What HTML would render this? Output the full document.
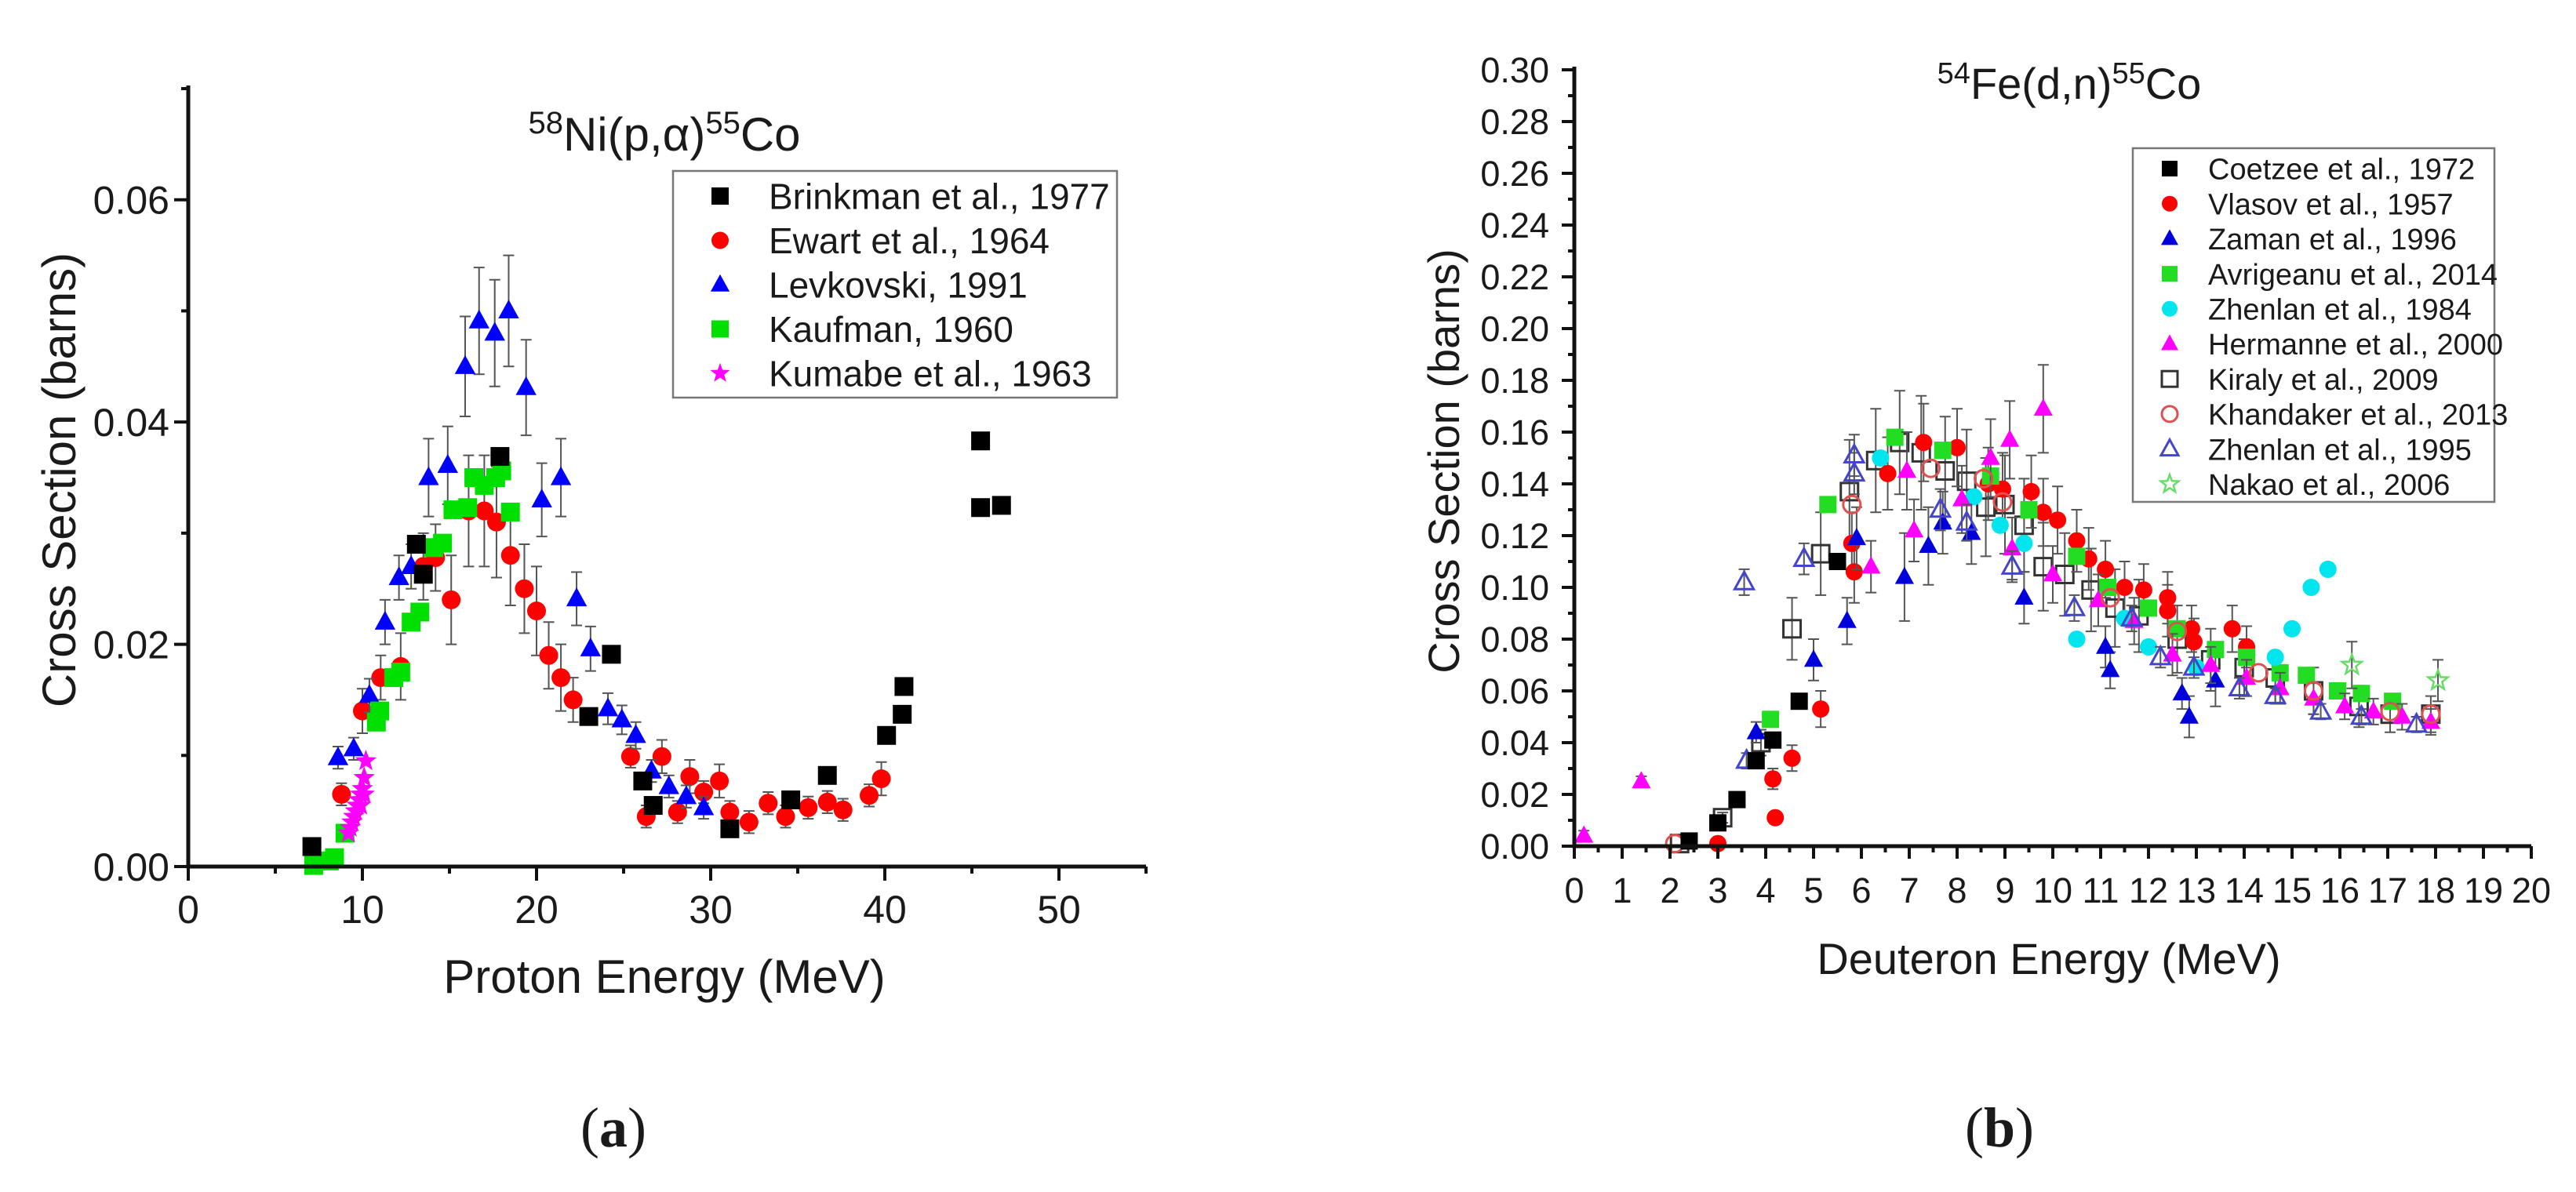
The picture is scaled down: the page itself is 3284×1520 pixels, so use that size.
<!DOCTYPE html>
<html><head><meta charset="utf-8"><style>
html,body{margin:0;padding:0;background:#fff}
svg{display:block}
text{font-family:"Liberation Sans",sans-serif;fill:#1a1a1a}
</style></head><body>
<svg id="fig" width="3284" height="1520" viewBox="0 0 3284 1520" xmlns="http://www.w3.org/2000/svg">
<g id="pa"></g>
<g id="pb"></g>
<text x="782" y="1462" text-anchor="middle" style="font-family:'Liberation Serif',serif;font-size:72px">(<tspan font-weight="bold">a</tspan>)</text>
<text x="2549" y="1462" text-anchor="middle" style="font-family:'Liberation Serif',serif;font-size:72px">(<tspan font-weight="bold">b</tspan>)</text>
</svg>
<script>
// ---------- Panel A data ----------
const brinkX=[7.1,13.1,13.5,17.9,23.0,24.3,26.1,26.7,31.1,34.6,36.7,40.1,41.0,41.1,45.5,45.5,46.7];
const brinkY=[0.0018,0.029,0.0263,0.0369,0.0135,0.0191,0.0077,0.0055,0.0034,0.006,0.0082,0.0118,0.0137,0.0162,0.0383,0.0323,0.0325];
const ewartX=[8.8,10.0,11.05,12.2,13.5,14.2,15.1,16.1,17.0,17.7,18.5,19.3,20.0,20.7,21.4,22.1,25.4,26.3,27.2,28.1,28.8,29.6,30.5,31.1,32.2,33.3,34.3,35.6,36.7,37.6,39.1,39.8];
const ewartY=[0.0065,0.014,0.017,0.018,0.027,0.0278,0.024,0.032,0.032,0.031,0.028,0.025,0.023,0.019,0.017,0.015,0.0099,0.0045,0.0099,0.0049,0.0081,0.0067,0.0077,0.0049,0.004,0.0057,0.0045,0.0053,0.0058,0.0051,0.0064,0.0079];
const ewartE=[0.001,0.002,0.002,0.003,0.003,0.003,0.004,0.005,0.005,0.005,0.0045,0.004,0.004,0.003,0.003,0.002,0.001,0.001,0.0015,0.001,0.0015,0.001,0.0015,0.001,0.001,0.001,0.001,0.001,0.001,0.001,0.001,0.0015];
const levX=[8.6,9.5,10.4,11.3,12.1,12.8,13.8,14.9,15.9,16.7,17.6,18.4,19.4,20.3,21.4,22.3,23.1,24.1,24.9,25.7,26.6,27.6,28.6,29.6];
const levY=[0.0098,0.0106,0.0154,0.022,0.026,0.027,0.035,0.0361,0.045,0.0491,0.048,0.050,0.0431,0.033,0.035,0.0241,0.0196,0.0142,0.0132,0.0118,0.0086,0.0072,0.0063,0.0053];
const levE=[0.001,0.001,0.0015,0.002,0.002,0.002,0.0035,0.0035,0.0045,0.0048,0.0048,0.005,0.0043,0.0033,0.0035,0.0024,0.002,0.0014,0.0013,0.0012,0.001,0.001,0.001,0.001];
const kaufX=[7.2,8.1,8.4,9.0,10.8,11.0,11.8,12.2,12.8,13.3,14.1,14.6,15.2,16.05,16.4,17.0,17.65,18.0,18.5];
const kaufY=[0.0001,0.0005,0.0008,0.003,0.013,0.014,0.017,0.0175,0.022,0.0229,0.0287,0.0291,0.0321,0.0323,0.035,0.0343,0.035,0.0356,0.0319];
const kumX=[9.2,9.3,9.4,9.5,9.6,9.7,9.8,9.9,9.9,10.0,10.1,10.1,10.2];
const kumY=[0.003,0.0035,0.004,0.0045,0.005,0.0055,0.006,0.0065,0.0055,0.007,0.008,0.0065,0.0095];
const aXTicks=[0,10,20,30,40,50];
const aYTicks=[0,0.02,0.04,0.06];
const aYLabels=["0.00","0.02","0.04","0.06"];

// ---------- Panel B data ----------
const coeX=[2.4,3.0,3.4,3.8,4.15,4.7,5.5];
const coeY=[0.002,0.009,0.018,0.033,0.041,0.056,0.11];
const vlaX=[3.0,4.2,4.15,4.55,5.15,5.8,5.85,6.55,7.3,8.0,8.65,8.95,9.55,9.8,10.1,10.5,10.75,11.1,11.5,11.9,12.4,12.4,12.9,12.95,13.75,14.05];
const vlaY=[0.001,0.011,0.026,0.034,0.053,0.117,0.106,0.144,0.156,0.154,0.14,0.138,0.137,0.129,0.126,0.118,0.111,0.107,0.1,0.099,0.096,0.091,0.084,0.079,0.084,0.077];
const vlaE=[0,0.002,0.004,0.005,0.007,0.012,0.012,0.014,0.015,0.015,0.014,0.014,0.014,0.013,0.013,0.012,0.012,0.011,0.01,0.01,0.01,0.01,0.009,0.009,0.009,0.008];
const zamX=[3.8,5.0,5.7,5.9,6.9,7.4,7.7,8.3,9.4,11.1,11.2,12.7,12.85,13.4];
const zamY=[0.044,0.072,0.087,0.119,0.104,0.116,0.125,0.121,0.096,0.077,0.068,0.059,0.05,0.064];
const zamE=[0.004,0.008,0.009,0.012,0.017,0.015,0.012,0.012,0.01,0.008,0.007,0.006,0.008,0.01];
const avrX=[4.1,5.3,6.7,7.7,8.7,9.5,10.5,11.15,12.0,12.6,13.4,14.05,14.75,15.3,15.95,16.45,17.1];
const avrY=[0.049,0.132,0.158,0.153,0.143,0.13,0.112,0.1,0.092,0.084,0.076,0.073,0.067,0.066,0.06,0.059,0.056];
const zh84X=[6.4,8.35,8.9,9.4,10.5,11.5,12.0,13.0,14.65,15.0,15.4,15.75];
const zh84Y=[0.15,0.135,0.124,0.117,0.08,0.088,0.077,0.069,0.073,0.084,0.1,0.107];
const herX=[0.2,1.4,6.2,6.95,7.1,8.1,8.7,9.1,9.15,9.8,10.0,10.95,11.7,12.5,13.3,14.05,14.75,15.45,16.1,16.7,17.3,17.9];
const herY=[0.004,0.025,0.108,0.145,0.122,0.134,0.15,0.157,0.115,0.169,0.105,0.095,0.087,0.074,0.07,0.065,0.061,0.057,0.054,0.052,0.05,0.048];
const herE=[0.002,0.002,0.01,0.015,0.012,0.013,0.015,0.015,0.012,0.017,0.011,0.01,0.009,0.008,0.007,0.007,0.006,0.006,0.005,0.005,0.005,0.005];
const kirX=[2.2,3.1,3.9,4.55,5.15,5.75,6.3,6.8,7.25,7.75,8.2,8.6,9.0,9.4,9.8,10.25,10.8,11.3,11.8,12.6,13.3,14.0,14.65,15.45,16.4,17.05,17.9];
const kirY=[0.001,0.011,0.04,0.084,0.113,0.137,0.149,0.156,0.152,0.145,0.141,0.131,0.132,0.124,0.108,0.105,0.099,0.092,0.089,0.08,0.072,0.069,0.065,0.06,0.054,0.051,0.051];
const kirE=[0,0.002,0.005,0.012,0.016,0.02,0.02,0.02,0.022,0.021,0.02,0.019,0.019,0.018,0.017,0.016,0.016,0.015,0.014,0.013,0.012,0.011,0.01,0.009,0.008,0.007,0.007];
const khaX=[2.1,5.8,7.45,8.55,8.95,11.2,12.6,14.3,15.45,17.05,17.9];
const khaY=[0.001,0.132,0.146,0.142,0.133,0.096,0.083,0.067,0.06,0.052,0.051];
const zh95X=[3.55,3.6,4.8,5.85,5.85,7.65,8.2,9.15,10.45,11.65,12.25,12.95,13.9,14.65,15.6,16.45,17.6];
const zh95Y=[0.102,0.033,0.111,0.151,0.144,0.13,0.125,0.108,0.092,0.088,0.073,0.069,0.061,0.058,0.052,0.05,0.047];
const zh95E=[0.005,0.003,0.006,0.008,0.008,0.008,0.007,0.006,0.005,0.005,0.004,0.004,0.004,0.003,0.003,0.003,0.003];
const nakX=[16.25,18.05];
const nakY=[0.07,0.064];
const nakE=[0.009,0.008];
const bXTicks=[0,1,2,3,4,5,6,7,8,9,10,11,12,13,14,15,16,17,18,19,20];
const bYTicks=[0,0.02,0.04,0.06,0.08,0.10,0.12,0.14,0.16,0.18,0.20,0.22,0.24,0.26,0.28,0.30];

const NS="http://www.w3.org/2000/svg";
function mk(parent,tag,attrs){const e=document.createElementNS(NS,tag);for(const k in attrs)e.setAttribute(k,attrs[k]);parent.appendChild(e);return e;}

function marker(g,shape,cx,cy,s,color,filled){
  let e;const fill=filled?color:"none";const sw=filled?0:3;
  if(shape==="sq"){e=mk(g,"rect",{x:cx-s/2,y:cy-s/2,width:s,height:s,fill:fill,stroke:color,"stroke-width":sw});}
  else if(shape==="ci"){e=mk(g,"circle",{cx:cx,cy:cy,r:s/2,fill:fill,stroke:color,"stroke-width":sw});}
  else if(shape==="tr"){const w=s*1.1,h=s*1.0;e=mk(g,"polygon",{points:`${cx},${cy-h*0.6} ${cx-w/2},${cy+h*0.4} ${cx+w/2},${cy+h*0.4}`,fill:fill,stroke:color,"stroke-width":sw});}
  else {let p=[];for(let i=0;i<10;i++){const r=i%2?s*0.25:s*0.6;const a=-Math.PI/2+i*Math.PI/5;p.push((cx+r*Math.cos(a)).toFixed(1)+","+(cy+r*Math.sin(a)).toFixed(1));}
    e=mk(g,"polygon",{points:p.join(" "),fill:fill,stroke:color,"stroke-width":filled?0:2.5});}
  return e;
}

function panel(g,cfg){
  const sx=v=>cfg.x0+(v-cfg.xmin)/(cfg.xmax-cfg.xmin)*(cfg.x1-cfg.x0);
  const sy=v=>cfg.y0-(v-cfg.ymin)/(cfg.ymax-cfg.ymin)*(cfg.y0-cfg.y1);
  cfg.series.forEach(s=>{
    const sg=mk(g,"g",{});
    
    
    s.x.forEach((xv,i)=>{
      const px=sx(xv),py=sy(s.y[i]);
      if(s.e&&s.e[i]>0){
        const a=sy(s.y[i]+s.e[i]),b=sy(s.y[i]-s.e[i]);
        const eg=mk(sg,"path",{d:`M${px},${a}V${b}M${px-7},${a}H${px+7}M${px-7},${b}H${px+7}`,stroke:"#555",fill:"none","stroke-width":2});
        
        
      }
    });
    s.x.forEach((xv,i)=>{
      const m=marker(sg,s.shape,sx(xv),sy(s.y[i]),cfg.ms,s.color,s.filled);
      
      
    });
  });
  const ax=mk(g,"g",{});
  
  
  mk(ax,"path",{d:`M${cfg.x0},${cfg.y1-4}V${cfg.y0}H${cfg.x1}`,stroke:"#111",fill:"none","stroke-width":5});
  cfg.xticks.forEach(t=>{const px=sx(t);mk(ax,"line",{x1:px,y1:cfg.y0,x2:px,y2:cfg.y0+cfg.tl,stroke:"#111","stroke-width":4});
    const tx=mk(ax,"text",{x:px,y:cfg.y0+cfg.xlabOff,"text-anchor":"middle","font-size":cfg.tfs});tx.textContent=String(t);
    });
  cfg.xminor.forEach(t=>{const px=sx(t);mk(ax,"line",{x1:px,y1:cfg.y0,x2:px,y2:cfg.y0+cfg.tl/2,stroke:"#111","stroke-width":4});});
  cfg.yticks.forEach((t,i)=>{const py=sy(t);mk(ax,"line",{x1:cfg.x0-cfg.tl,y1:py,x2:cfg.x0,y2:py,stroke:"#111","stroke-width":4});
    const tx=mk(ax,"text",{x:cfg.x0-cfg.ylabOff,y:py+cfg.tfs*0.36,"text-anchor":"end","font-size":cfg.tfs});tx.textContent=cfg.ylabels[i];
    });
  cfg.yminor.forEach(t=>{const py=sy(t);mk(ax,"line",{x1:cfg.x0-cfg.tl/2,y1:py,x2:cfg.x0,y2:py,stroke:"#111","stroke-width":4});});
}

const ga=document.getElementById('pa'),gb=document.getElementById('pb');
const aMinorX=[5,15,25,35,45,55], aMinorY=[0.01,0.03,0.05,0.07];
panel(ga,{x0:240,x1:1461,y0:1105,y1:113,xmin:0,xmax:55,ymin:0,ymax:0.07,ms:24,tl:18,tfs:50,xlabOff:72,ylabOff:24,
  xticks:aXTicks,xminor:aMinorX,yticks:aYTicks,ylabels:aYLabels,yminor:aMinorY,
  series:[
   {name:'series-ewart-1964',x:ewartX,y:ewartY,e:ewartE,shape:'ci',color:'#ff0000',filled:true},
   {name:'series-levkovski-1991',x:levX,y:levY,e:levE,shape:'tr',color:'#0000ff',filled:true},
   {name:'series-kaufman-1960',x:kaufX,y:kaufY,shape:'sq',color:'#00e000',filled:true},
   {name:'series-brinkman-1977',x:brinkX,y:brinkY,shape:'sq',color:'#000000',filled:true},
   {name:'series-kumabe-1963',x:kumX,y:kumY,shape:'st',color:'#ff00ff',filled:true}
  ]});
const bMinorX=[0.5,1.5,2.5,3.5,4.5,5.5,6.5,7.5,8.5,9.5,10.5,11.5,12.5,13.5,14.5,15.5,16.5,17.5,18.5,19.5];
const bMinorY=[0.01,0.03,0.05,0.07,0.09,0.11,0.13,0.15,0.17,0.19,0.21,0.23,0.25,0.27,0.29];
panel(gb,{x0:2007,x1:3227,y0:1079,y1:89,xmin:0,xmax:20,ymin:0,ymax:0.30,ms:22,tl:16,tfs:45,xlabOff:72,ylabOff:32,
  xticks:bXTicks,xminor:bMinorX,yticks:bYTicks,ylabels:bYTicks.map(v=>v.toFixed(2)),yminor:bMinorY,
  series:[
   {name:'series-kiraly-2009',x:kirX,y:kirY,e:kirE,shape:'sq',color:'#333333',filled:false},
   {name:'series-vlasov-1957',x:vlaX,y:vlaY,e:vlaE,shape:'ci',color:'#ff0000',filled:true},
   {name:'series-zaman-1996',x:zamX,y:zamY,e:zamE,shape:'tr',color:'#0000dd',filled:true},
   {name:'series-avrigeanu-2014',x:avrX,y:avrY,shape:'sq',color:'#22dd22',filled:true},
   {name:'series-zhenlan-1984',x:zh84X,y:zh84Y,shape:'ci',color:'#00e5ee',filled:true},
   {name:'series-hermanne-2000',x:herX,y:herY,e:herE,shape:'tr',color:'#ff00ff',filled:true},
   {name:'series-khandaker-2013',x:khaX,y:khaY,shape:'ci',color:'#e05050',filled:false},
   {name:'series-zhenlan-1995',x:zh95X,y:zh95Y,e:zh95E,shape:'tr',color:'#4444cc',filled:false},
   {name:'series-coetzee-1972',x:coeX,y:coeY,shape:'sq',color:'#000000',filled:true},
   {name:'series-nakao-2006',x:nakX,y:nakY,e:nakE,shape:'st',color:'#66dd66',filled:false}
  ]});

function txt(g,name,x,y,size,str,extra){const t=mk(g,"text",Object.assign({x:x,y:y,"font-size":size},extra||{}));t.innerHTML=str;
  
  return t;}
txt(ga,'chart-title-a',847,192,60,'<tspan font-size="40" dy="-22">58</tspan><tspan dy="22">Ni(p,α)</tspan><tspan font-size="40" dy="-22">55</tspan><tspan dy="22">Co</tspan>',{"text-anchor":"middle"});
txt(ga,'x-axis-title-a',847,1266,60,'Proton Energy (MeV)',{"text-anchor":"middle"});
txt(ga,'y-axis-title-a',0,0,60,'Cross Section (barns)',{"text-anchor":"middle",transform:"translate(96,612) rotate(-90)"});
txt(gb,'chart-title-b',2638,126,56,'<tspan font-size="38" dy="-20">54</tspan><tspan dy="20">Fe(d,n)</tspan><tspan font-size="38" dy="-20">55</tspan><tspan dy="20">Co</tspan>',{"text-anchor":"middle"});
txt(gb,'x-axis-title-b',2612,1242,56,'Deuteron Energy (MeV)',{"text-anchor":"middle"});
txt(gb,'y-axis-title-b',0,0,56,'Cross Section (barns)',{"text-anchor":"middle",transform:"translate(1860,588) rotate(-90)"});

const legANames=["Brinkman et al., 1977","Ewart et al., 1964","Levkovski, 1991","Kaufman, 1960","Kumabe et al., 1963"];
const legAStyle=[['sq','#000000',true],['ci','#ff0000',true],['tr','#0000ff',true],['sq','#00e000',true],['st','#ff00ff',true]];
const legBNames=["Coetzee et al., 1972","Vlasov et al., 1957","Zaman et al., 1996","Avrigeanu et al., 2014","Zhenlan et al., 1984","Hermanne et al., 2000","Kiraly et al., 2009","Khandaker et al., 2013","Zhenlan et al., 1995","Nakao et al., 2006"];
const legBStyle=[['sq','#000000',true],['ci','#ff0000',true],['tr','#0000dd',true],['sq','#22dd22',true],['ci','#00e5ee',true],['tr','#ff00ff',true],['sq','#333333',false],['ci','#e05050',false],['tr','#4444cc',false],['st','#66dd66',false]];
function legend(g,name,bx,by,bw,bh,mx,tx,y0,dy,fs,ms,names,styles){
  const lg=mk(g,"g",{});
  
  
  mk(lg,"rect",{x:bx,y:by,width:bw,height:bh,fill:"#fff",stroke:"#777","stroke-width":2.5});
  names.forEach((n,i)=>{const yy=y0+i*dy;
    const m=marker(lg,styles[i][0],mx,yy,ms,styles[i][1],styles[i][2]);
    
    
    const t=mk(lg,"text",{x:tx,y:yy+fs*0.36,"font-size":fs});t.textContent=n;
    
    });
}
legend(ga,'legend-a',858,218,566,289,918,980,250,56.5,46,22,legANames,legAStyle);
legend(gb,'legend-b',2719,189,461,451,2766,2815,215,44.7,38,20,legBNames,legBStyle);
</script>
</body></html>
